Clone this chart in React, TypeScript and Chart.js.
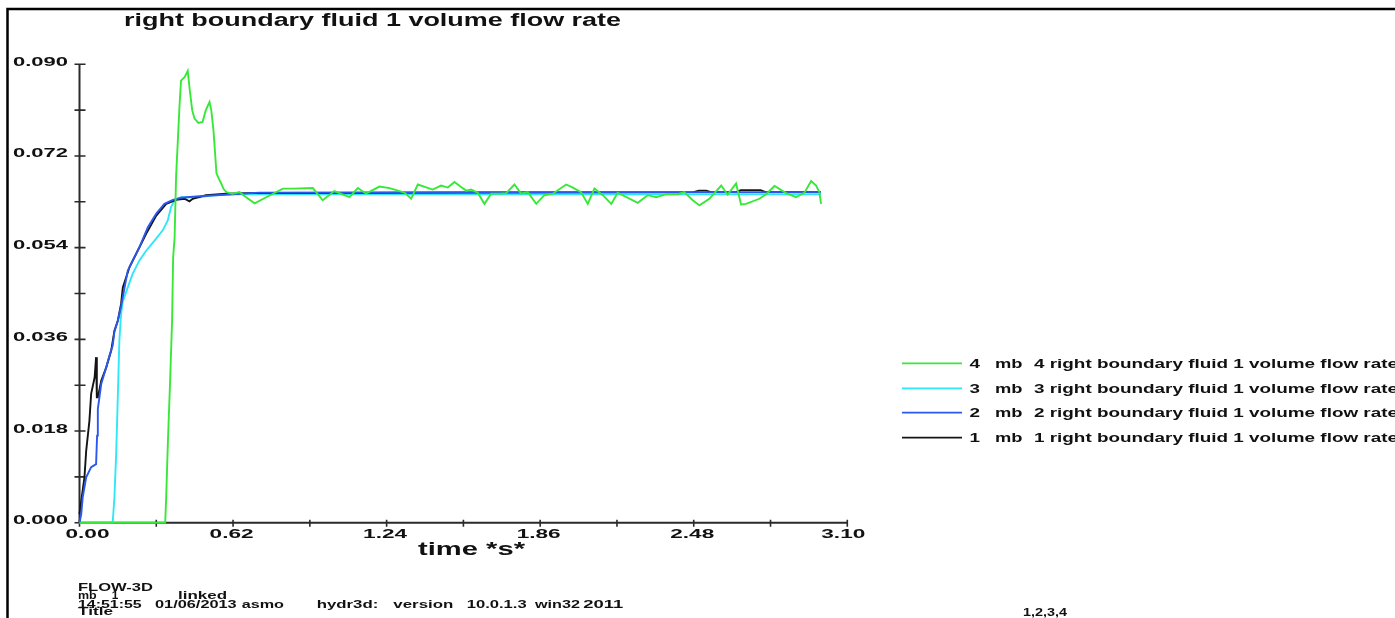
import React, { useEffect, useRef } from "react";
import { Chart, registerables } from "chart.js";

Chart.register(...registerables);

// ---------- data ----------
const chartTitle = "right boundary fluid 1 volume flow rate";
const xAxisTitle = "time *s*";

const xTickValues = [0, 0.62, 1.24, 1.86, 2.48, 3.1];
const xTickLabels = ["0.00", "0.62", "1.24", "1.86", "2.48", "3.10"];
const xMinorTicks = [0.31, 0.93, 1.55, 2.17, 2.79];

const yTickValues = [0, 0.018, 0.036, 0.054, 0.072, 0.09];
const yTickLabels = ["0.000", "0.018", "0.036", "0.054", "0.072", "0.090"];
const yMinorTicks = [0.009, 0.027, 0.045, 0.063, 0.081];

const seriesNumbers = ["4", "3", "2", "1"];
const seriesNames = [
  "4 right boundary fluid 1 volume flow rate",
  "3 right boundary fluid 1 volume flow rate",
  "2 right boundary fluid 1 volume flow rate",
  "1 right boundary fluid 1 volume flow rate",
];
const seriesColors = ["#38e838", "#2ee8f8", "#2c58ee", "#141414"];

// mb 4 (green): [time, rate]
const mb4: [number, number][] = [
  [0, 0], [0.346, 0], [0.35, 0.005], [0.357, 0.016], [0.366, 0.028], [0.374, 0.04],
  [0.378, 0.052], [0.384, 0.056], [0.39, 0.068], [0.404, 0.082], [0.41, 0.0868],
  [0.425, 0.0875], [0.437, 0.0887], [0.445, 0.085], [0.455, 0.081], [0.464, 0.0794],
  [0.48, 0.0785], [0.497, 0.0787], [0.51, 0.081], [0.525, 0.0826], [0.532, 0.081],
  [0.541, 0.077], [0.553, 0.0686], [0.563, 0.0675], [0.572, 0.0666], [0.582, 0.0655],
  [0.593, 0.0649], [0.618, 0.0646], [0.646, 0.0649], [0.673, 0.0639], [0.707, 0.0627],
  [0.754, 0.0639], [0.821, 0.0656], [0.861, 0.0656], [0.942, 0.0657], [0.982, 0.0633],
  [1.029, 0.0651], [1.09, 0.0639], [1.124, 0.0657], [1.157, 0.0646], [1.211, 0.066],
  [1.252, 0.0657], [1.292, 0.0651], [1.312, 0.0648], [1.339, 0.0636], [1.366, 0.0664],
  [1.426, 0.0654], [1.46, 0.0662], [1.487, 0.0658], [1.514, 0.0669], [1.541, 0.0659],
  [1.561, 0.0652], [1.581, 0.0654], [1.608, 0.0648], [1.635, 0.0626], [1.662, 0.0646],
  [1.696, 0.0646], [1.723, 0.0647], [1.756, 0.0664], [1.783, 0.0646], [1.81, 0.0649],
  [1.844, 0.0626], [1.877, 0.0643], [1.911, 0.0646], [1.965, 0.0664], [1.992, 0.0658],
  [2.025, 0.0649], [2.052, 0.0626], [2.079, 0.0656], [2.113, 0.0643], [2.147, 0.0626],
  [2.173, 0.0648], [2.254, 0.0628], [2.294, 0.0643], [2.328, 0.0639], [2.369, 0.0645],
  [2.415, 0.0645], [2.442, 0.0649], [2.476, 0.0633], [2.503, 0.0623], [2.543, 0.0636],
  [2.591, 0.0662], [2.617, 0.0644], [2.651, 0.0666], [2.671, 0.0625], [2.691, 0.0626],
  [2.745, 0.0636], [2.772, 0.0645], [2.806, 0.0661], [2.853, 0.0647], [2.893, 0.0639],
  [2.927, 0.0648], [2.954, 0.0671], [2.974, 0.0662], [2.987, 0.0649], [2.994, 0.0626],
];

// mb 3 (cyan)
const mb3: [number, number][] = [
  [0, 0], [0.134, 0], [0.141, 0.005], [0.148, 0.0135], [0.155, 0.0253], [0.161, 0.0358],
  [0.168, 0.041], [0.175, 0.0435], [0.195, 0.0462], [0.215, 0.0489], [0.242, 0.0515],
  [0.269, 0.0534], [0.303, 0.0554], [0.336, 0.0574], [0.356, 0.0593], [0.37, 0.062],
  [0.384, 0.0633], [0.41, 0.0639], [0.484, 0.0639], [0.538, 0.0643], [0.619, 0.0645],
  [2.994, 0.0645],
];

// mb 2 (blue)
const mb2: [number, number][] = [
  [0, 0], [0.007, 0.0017], [0.013, 0.005], [0.027, 0.0089], [0.047, 0.0109], [0.067, 0.0115],
  [0.071, 0.0171], [0.074, 0.0223], [0.088, 0.0273], [0.108, 0.0305], [0.121, 0.0328],
  [0.134, 0.0348], [0.141, 0.0375], [0.155, 0.0397], [0.168, 0.0425], [0.182, 0.0462],
  [0.195, 0.0495], [0.215, 0.0515], [0.242, 0.0541], [0.276, 0.058], [0.31, 0.0607],
  [0.343, 0.0626], [0.377, 0.0634], [0.41, 0.0638], [0.484, 0.0641], [0.619, 0.0645],
  [0.727, 0.0648], [1.5, 0.0649], [2.994, 0.0649],
];

// mb 1 (black)
const mb1: [number, number][] = [
  [0, 0.0017], [0.007, 0.0043], [0.02, 0.0089], [0.027, 0.0141], [0.04, 0.02], [0.047, 0.0253],
  [0.061, 0.0285], [0.067, 0.0325], [0.07, 0.0246], [0.074, 0.0246], [0.088, 0.0279],
  [0.108, 0.0305], [0.128, 0.0338], [0.141, 0.0377], [0.155, 0.0397], [0.168, 0.043],
  [0.175, 0.0462], [0.202, 0.0502], [0.229, 0.0528], [0.269, 0.0567], [0.31, 0.0603],
  [0.35, 0.0626], [0.39, 0.0634], [0.424, 0.0636], [0.444, 0.0631], [0.457, 0.0636],
  [0.511, 0.0643], [0.592, 0.0646], [0.673, 0.0647], [2.48, 0.0649], [2.5, 0.0652],
  [2.53, 0.0652], [2.55, 0.0649], [2.65, 0.0649], [2.67, 0.0653], [2.75, 0.0653],
  [2.77, 0.0649], [2.994, 0.0649],
];

const footerLines = {
  program: "FLOW-3D",
  mb: "mb",
  mbNum: "1",
  linked: "linked",
  time: "14:51:55",
  date: "01/06/2013",
  user: "asmo",
  solver: "hydr3d:",
  versionWord: "version",
  version: "10.0.1.3",
  platform: "win32",
  year: "2011",
  title: "Title",
  list: "1,2,3,4",
};

// ---------- helpers ----------
const FONT = '"Liberation Sans", Arial, Helvetica, sans-serif';

function fitText(ctx: CanvasRenderingContext2D, text: string, left: number, baseline: number, width: number, size: number) {
  ctx.font = `bold ${size}px ${FONT}`;
  const w = ctx.measureText(text).width || 1;
  ctx.save();
  ctx.translate(left, baseline);
  ctx.scale(width / w, 1);
  ctx.textAlign = "left";
  ctx.textBaseline = "alphabetic";
  ctx.fillText(text, 0, 0);
  ctx.restore();
}

function fitCenter(ctx: CanvasRenderingContext2D, text: string, cx: number, baseline: number, width: number, size: number) {
  fitText(ctx, text, cx - width / 2, baseline, width, size);
}

const toPts = (arr: [number, number][]) => arr.map(([x, y]) => ({ x, y }));

export default function App() {
  const ref = useRef<HTMLCanvasElement | null>(null);

  useEffect(() => {
    document.body.style.margin = "0";
    const canvas = ref.current!;
    const W = 1395;
    const H = 618;

    const decor = {
      id: "decor",
      beforeDatasetsDraw(chart: any) {
        const ctx: CanvasRenderingContext2D = chart.ctx;
        const xs = chart.scales.x;
        const ys = chart.scales.y;
        const x0 = xs.getPixelForValue(0);
        const x1 = xs.getPixelForValue(3.1);
        const y0 = ys.getPixelForValue(0);
        const y1 = ys.getPixelForValue(0.09);
        ctx.save();
        // page frame
        ctx.strokeStyle = "#000";
        ctx.lineWidth = 2.5;
        ctx.beginPath();
        ctx.moveTo(7.5, H);
        ctx.lineTo(7.5, 9);
        ctx.lineTo(W, 9);
        ctx.stroke();
        // axes
        ctx.strokeStyle = "#2a2a2a";
        ctx.lineWidth = 2;
        ctx.beginPath();
        ctx.moveTo(x0, y1);
        ctx.lineTo(x0, y0);
        ctx.moveTo(x0, y0);
        ctx.lineTo(x1, y0);
        ctx.stroke();
        ctx.lineWidth = 1.6;
        ctx.beginPath();
        [...yTickValues, ...yMinorTicks].forEach((v) => {
          const y = ys.getPixelForValue(v);
          ctx.moveTo(x0 - 5, y);
          ctx.lineTo(x0 + 6, y);
        });
        [...xTickValues, ...xMinorTicks].forEach((v) => {
          const x = xs.getPixelForValue(v);
          ctx.moveTo(x, y0 - 3);
          ctx.lineTo(x, y0 + 4);
        });
        ctx.stroke();
        ctx.restore();
      },
      afterDraw(chart: any) {
        const ctx: CanvasRenderingContext2D = chart.ctx;
        const xs = chart.scales.x;
        const ys = chart.scales.y;
        ctx.save();
        ctx.fillStyle = "#111";
        // title
        fitText(ctx, chartTitle, 124, 26, 497, 17.5);
        // y tick labels
        yTickValues.forEach((v, i) => {
          const y = ys.getPixelForValue(v);
          fitText(ctx, yTickLabels[i], 13, y + 1.5, 55, 13);
        });
        // x tick labels
        xTickValues.forEach((v, i) => {
          const x = xs.getPixelForValue(v);
          let cx = x - 1.5;
          if (i === 0) cx = x + 8;
          if (i === xTickValues.length - 1) cx = x - 4;
          fitCenter(ctx, xTickLabels[i], cx, 537.5, 44, 13);
        });
        // x axis title
        fitText(ctx, xAxisTitle, 418, 555, 107, 18.5);
        // legend
        const rowY = [363.3, 388.3, 412.7, 437.7];
        ctx.font = `bold 12px ${FONT}`;
        const descW = ctx.measureText(seriesNames[0]).width;
        const sx = 364 / descW;
        seriesNumbers.forEach((num, i) => {
          const y = rowY[i];
          ctx.strokeStyle = seriesColors[i];
          ctx.lineWidth = 1.8;
          ctx.beginPath();
          ctx.moveTo(902, y);
          ctx.lineTo(962, y);
          ctx.stroke();
          ctx.fillStyle = "#111";
          const base = y + 4.3;
          ctx.font = `bold 12px ${FONT}`;
          const nw = ctx.measureText(num).width * sx;
          fitText(ctx, num, 969.5, base, nw, 12);
          fitText(ctx, "mb", 995, base, 27.5, 12);
          fitText(ctx, seriesNames[i], 1034, base, 364, 12);
        });
        // footer
        ctx.fillStyle = "#111";
        const f = 10.5;
        fitText(ctx, footerLines.program, 78, 591, 75, f);
        fitText(ctx, footerLines.mb, 78, 599.3, 18.7, f);
        fitText(ctx, footerLines.mbNum, 111.7, 599.3, 6.6, f);
        fitText(ctx, footerLines.linked, 178, 599.3, 49, f);
        fitText(ctx, footerLines.time, 78, 607.5, 63.7, f);
        fitText(ctx, footerLines.date, 155, 607.5, 81.7, f);
        fitText(ctx, footerLines.user, 241.7, 607.5, 42.3, f);
        fitText(ctx, footerLines.solver, 316.7, 607.5, 61.6, f);
        fitText(ctx, footerLines.versionWord, 393.3, 607.5, 60, f);
        fitText(ctx, footerLines.version, 466.7, 607.5, 60, f);
        fitText(ctx, footerLines.platform, 535, 607.5, 45, f);
        fitText(ctx, footerLines.year, 583.3, 607.5, 40, f);
        fitText(ctx, footerLines.title, 78, 615.3, 35, f);
        fitText(ctx, footerLines.list, 1023, 616, 44, f);
        ctx.restore();
      },
    };

    const mk = (label: string, pts: [number, number][], color: string) => ({
      label,
      data: toPts(pts),
      borderColor: color,
      backgroundColor: color,
      borderWidth: 1.9,
      pointRadius: 0,
      tension: 0,
      fill: false,
      clip: 10,
    });

    const chart = new Chart(canvas, {
      type: "line",
      data: {
        datasets: [
          mk(seriesNames[0], mb4, seriesColors[0]),
          mk(seriesNames[2], mb2, seriesColors[2]),
          mk(seriesNames[3], mb1, seriesColors[3]),
          mk(seriesNames[1], mb3, seriesColors[1]),
        ],
      },
      options: {
        responsive: false,
        animation: false,
        devicePixelRatio: 1,
        layout: { padding: { left: 79.5, top: 64.3, right: W - 847.3, bottom: H - 522.7 } },
        plugins: { legend: { display: false }, tooltip: { enabled: false }, title: { display: false } },
        scales: {
          x: { type: "linear", min: 0, max: 3.1, display: false },
          y: { type: "linear", min: 0, max: 0.09, display: false },
        },
      },
      plugins: [decor],
    } as any);

    return () => chart.destroy();
  }, []);

  return (
    <canvas
      ref={ref}
      width={1395}
      height={618}
      style={{ position: "fixed", left: 0, top: 0, width: 1395, height: 618, display: "block", background: "#fff" }}
    />
  );
}
